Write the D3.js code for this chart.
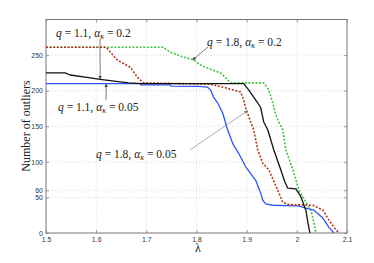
<!DOCTYPE html>
<html><head><meta charset="utf-8">
<script src="https://cdn.jsdelivr.net/npm/d3@7"></script>
<style>body{margin:0;background:#fff}svg{display:block}</style>
</head><body>
<svg id="c" width="374" height="263"></svg>
<script>
const xTicks = [1.5, 1.6, 1.7, 1.8, 1.9, 2.0, 2.1];
const xTickLabels = ["1.5", "1.6", "1.7", "1.8", "1.9", "2", "2.1"];
const yTicks = [0, 50, 60, 100, 150, 200, 250];

// q = 1.1, alpha = 0.05 (blue solid)
const blueL = [1.5, 1.688, 1.689, 1.748, 1.749, 1.804, 1.822, 1.828, 1.834, 1.842, 1.852, 1.862, 1.872, 1.884, 1.898, 1.918, 1.928, 1.932, 1.938, 1.952, 2.004, 2.018, 2.034, 2.052, 2.064, 2.074];
const blueN = [210, 210, 208, 208, 206.5, 206, 205, 201, 191, 183, 169, 145, 126, 112, 93, 74, 56, 46, 41, 39, 38, 35, 32, 21, 8, 0];
// q = 1.1, alpha = 0.2 (black solid)
const blackL = [1.5, 1.538, 1.548, 1.578, 1.608, 1.664, 1.692, 1.894, 1.904, 1.914, 1.922, 1.928, 1.934, 1.942, 1.954, 1.968, 1.976, 1.982, 1.998, 2.008, 2.018, 2.022, 2.026];
const blackN = [225, 225, 222, 219, 216, 211, 210, 210, 201, 191, 183, 176, 156, 145, 117, 89, 72, 63, 62, 51, 32, 15, 0];
// q = 1.8, alpha = 0.05 (red dotted)
const redL = [1.5, 1.62, 1.642, 1.668, 1.682, 1.694, 1.828, 1.858, 1.888, 1.894, 1.898, 1.908, 1.914, 1.922, 1.932, 1.944, 1.962, 1.972, 1.984, 2.032, 2.052, 2.064, 2.074, 2.084];
const redN = [261, 261, 243, 233, 219, 211, 209, 204, 198, 187, 176, 156, 145, 117, 98, 89, 60, 43, 40, 39, 32, 18, 8, 0];
// q = 1.8, alpha = 0.2 (green dotted)
const greenL = [1.5, 1.734, 1.748, 1.774, 1.792, 1.808, 1.828, 1.848, 1.858, 1.868, 1.934, 1.944, 1.952, 1.958, 1.964, 1.972, 1.978, 1.992, 2.004, 2.016, 2.028, 2.034, 2.038];
const greenN = [261, 261, 254, 247, 244, 236, 230, 225, 218, 211, 211, 201, 183, 166, 156, 145, 117, 89, 60, 46, 32, 15, 0];

const svg = d3.select("#c");
const L = 46, R = 347, T = 19.5, B = 233;
const x = d3.scaleLinear().domain([1.5, 2.1]).range([L, R]);
const y = d3.scaleLinear().domain([0, 300]).range([B, T]);

// grid
const g = svg.append("g");
g.selectAll(".gx").data(xTicks.slice(1, -1)).enter().append("line")
  .attr("x1", d => x(d)).attr("x2", d => x(d)).attr("y1", T).attr("y2", B)
  .attr("stroke", "#c8c8c8").attr("stroke-width", 0.7).attr("stroke-dasharray", "1,2");
g.selectAll(".gy").data(yTicks.slice(1)).enter().append("line")
  .attr("x1", L).attr("x2", R).attr("y1", d => y(d)).attr("y2", d => y(d))
  .attr("stroke", "#c8c8c8").attr("stroke-width", 0.7).attr("stroke-dasharray", "1,2");

// axes with inward ticks
const ax = svg.append("g").attr("transform", `translate(0,${B})`)
  .call(d3.axisBottom(x).tickValues(xTicks).tickFormat((d, i) => xTickLabels[i]).tickSizeInner(-3).tickSizeOuter(0).tickPadding(5));
const axT = svg.append("g").attr("transform", `translate(0,${T})`)
  .call(d3.axisTop(x).tickValues(xTicks).tickFormat("").tickSizeInner(-3).tickSizeOuter(0));
const ay = svg.append("g").attr("transform", `translate(${L},0)`)
  .call(d3.axisLeft(y).tickValues(yTicks).tickFormat(d3.format("d")).tickSizeInner(-3).tickSizeOuter(0).tickPadding(3));
const ayR = svg.append("g").attr("transform", `translate(${R},0)`)
  .call(d3.axisRight(y).tickValues(yTicks).tickFormat("").tickSizeInner(-3).tickSizeOuter(0));
[ax, axT, ay, ayR].forEach(a => {
  a.select(".domain").remove();
  a.selectAll("line").attr("stroke", "#777").attr("stroke-width", 0.7);
  a.selectAll("text").attr("font-family", "Liberation Sans, Arial, sans-serif").attr("font-size", 7).attr("fill", "#333");
});
ax.selectAll("text").attr("dy", "0.5em");

// frame
svg.append("rect").attr("x", L).attr("y", T).attr("width", R - L).attr("height", B - T)
  .attr("fill", "none").attr("stroke", "#777").attr("stroke-width", 1);

// lines
const line = d3.line().x(d => x(d[0])).y(d => y(d[1]));
function draw(Ls, Ns, color, w, dash) {
  svg.append("path").datum(Ls.map((l, i) => [l, Ns[i]])).attr("d", line)
    .attr("fill", "none").attr("stroke", color).attr("stroke-width", w)
    .attr("stroke-dasharray", dash).attr("stroke-linejoin", "round");
}
draw(greenL, greenN, "#3ec43e", 1.6, "2,1.6");
draw(blueL, blueN, "#2f55ff", 1.3, null);
draw(redL, redN, "#b5361c", 1.6, "2,1.6");
draw(blackL, blackN, "#111", 1.3, null);

// arrows
const defs = svg.append("defs");
function marker(id, col) {
  defs.append("marker").attr("id", id).attr("viewBox", "0 0 10 10").attr("refX", 10).attr("refY", 5)
    .attr("markerWidth", 5).attr("markerHeight", 5).attr("orient", "auto")
    .append("path").attr("d", "M0,0 L10,5 L0,10 z").attr("fill", col);
}
marker("mk", "#444");
marker("mg", "#888");
function arrow(x1, y1, lx, ly, id, col) {
  svg.append("line").attr("x1", x1).attr("y1", y1).attr("x2", x(lx)).attr("y2", y(ly))
    .attr("stroke", col).attr("stroke-width", 0.7).attr("marker-end", `url(#${id})`);
}
arrow(100, 39, 1.608, 216, "mk", "#444");
arrow(106, 100, 1.62, 210, "mk", "#444");
arrow(208, 47, 1.792, 243, "mk", "#444");
arrow(190, 150, 1.902, 172, "mg", "#888");

// annotation texts
function label(tx, ty, qv, av) {
  const t = svg.append("text").attr("x", tx).attr("y", ty)
    .attr("font-family", "Liberation Serif, Times New Roman, serif").attr("font-size", 11.5).attr("fill", "#222");
  t.append("tspan").attr("font-style", "italic").text("q");
  t.append("tspan").text(` = ${qv},  `);
  t.append("tspan").attr("font-style", "italic").text("α");
  t.append("tspan").attr("font-style", "italic").attr("font-size", 8).attr("dy", 2).text("κ");
  t.append("tspan").attr("dy", -2).text(` = ${av}`);
}
label(56, 37, "1.1", "0.2");
label(58, 111, "1.1", "0.05");
label(207, 46, "1.8", "0.2");
label(96, 158, "1.8", "0.05");

// axis labels
svg.append("text").attr("transform", "translate(30,126) rotate(-90)").attr("text-anchor", "middle")
  .attr("font-family", "Liberation Serif, Times New Roman, serif").attr("font-size", 12).attr("fill", "#222")
  .text("Number of outliers");
svg.append("text").attr("x", 198).attr("y", 252).attr("text-anchor", "middle")
  .attr("font-family", "Liberation Serif, Times New Roman, serif").attr("font-size", 12).attr("fill", "#222")
  .text("λ");
</script>
</body></html>
